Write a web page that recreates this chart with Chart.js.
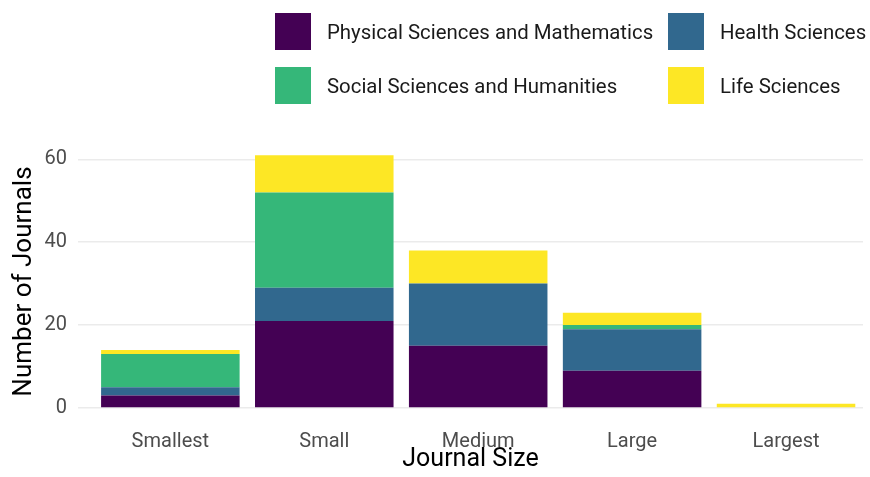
<!DOCTYPE html>
<html>
<head>
<meta charset="utf-8">
<script src="https://cdn.jsdelivr.net/npm/chart.js@4"></script>
<style>
  html, body { margin: 0; padding: 0; background: #fff; }
  #wrap { position: relative; width: 870px; height: 477px; }
  #legend { position: absolute; left: 0; top: 0; width: 870px; height: 120px; font-family: Roboto, "Noto Sans", sans-serif; }
  .item { position: absolute; display: flex; align-items: center; height: 37px; }
  .box { width: 36px; height: 37px; margin-right: 16px; }
  .lab { font-size: 20.4px; color: #1a1a1a; white-space: nowrap; }
</style>
</head>
<body>
<div id="wrap">
  <canvas id="c" width="870" height="477"></canvas>
  <div id="legend"></div>
</div>
<script>
const categories = ["Smallest", "Small", "Medium", "Large", "Largest"];
const seriesNames = ["Physical Sciences and Mathematics", "Health Sciences", "Social Sciences and Humanities", "Life Sciences"];
const seriesColors = ["#440154", "#31688e", "#35b779", "#fde725"];
const physical = [3, 21, 15, 9, 0];
const health = [2, 8, 15, 10, 0];
const social = [8, 23, 0, 1, 0];
const life = [1, 9, 8, 3, 1];
const yTicks = [0, 20, 40, 60];
const xTitle = "Journal Size";
const yTitle = "Number of Journals";

const seriesValues = [physical, health, social, life];

// HTML legend (2 x 2 grid, row-wise like the reference)
const legendPos = [[275, 13], [668, 13], [275, 67], [668, 67]];
const legendEl = document.getElementById('legend');
seriesNames.forEach((name, i) => {
  const it = document.createElement('div');
  it.className = 'item';
  it.style.left = legendPos[i][0] + 'px';
  it.style.top = legendPos[i][1] + 'px';
  const b = document.createElement('div');
  b.className = 'box';
  b.style.background = seriesColors[i];
  const t = document.createElement('span');
  t.className = 'lab';
  t.textContent = name;
  it.appendChild(b); it.appendChild(t);
  legendEl.appendChild(it);
});

const datasets = seriesNames.map((name, i) => ({
  label: name,
  data: seriesValues[i].map((v, j) => ({ x: j + 1, y: v })),
  backgroundColor: seriesColors[i],
  borderWidth: 0,
  barPercentage: 0.9,
  categoryPercentage: 1.0
}));

new Chart(document.getElementById('c'), {
  type: 'bar',
  data: { datasets },
  options: {
    responsive: false,
    animation: false,
    events: [],
    layout: { padding: { top: 142.5, right: 7, left: 0, bottom: 0 } },
    plugins: { legend: { display: false }, tooltip: { enabled: false } },
    scales: {
      x: {
        type: 'linear',
        stacked: true,
        offset: false,
        min: 0.4,
        max: 5.5,
        border: { display: false },
        grid: { display: false, drawTicks: false },
        afterBuildTicks: (s) => { s.ticks = categories.map((c, i) => ({ value: i + 1 })); },
        afterFit: (s) => { s.height = 56.4; },
        ticks: {
          autoSkip: false,
          maxRotation: 0,
          padding: 9.5,
          color: '#4d4d4d',
          font: { family: 'Roboto', size: 20 },
          callback: (v) => categories[Math.round(v) - 1]
        },
        title: {
          display: true,
          text: xTitle,
          color: '#000',
          font: { family: 'Roboto', size: 25, lineHeight: 1 },
          padding: { top: 0, bottom: 4.5 }
        }
      },
      y: {
        stacked: true,
        min: -3.05,
        max: 64.05,
        border: { display: false },
        grid: { color: '#ebebeb', lineWidth: 1.5, drawTicks: false },
        afterBuildTicks: (s) => { s.ticks = yTicks.map(v => ({ value: v })); },
        afterFit: (s) => { s.width = 78; },
        ticks: {
          padding: 11,
          color: '#4d4d4d',
          font: { family: 'Roboto', size: 20 }
        },
        title: {
          display: true,
          text: yTitle,
          color: '#000',
          font: { family: 'Roboto', size: 26, lineHeight: 1 },
          padding: { top: 11, bottom: 0 }
        }
      }
    }
  }
});
</script>
</body>
</html>
